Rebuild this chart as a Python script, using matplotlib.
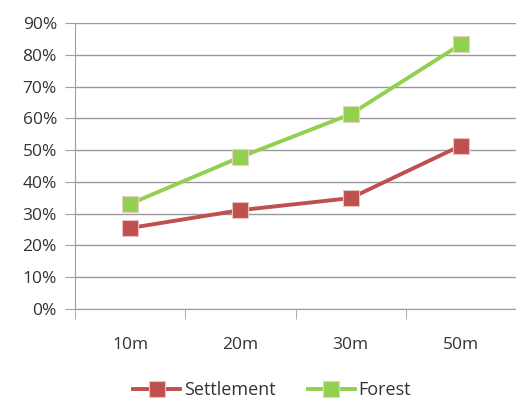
import matplotlib
matplotlib.use("Agg")
import matplotlib.pyplot as plt
from matplotlib.ticker import FuncFormatter

categories = ["10m", "20m", "30m", "50m"]
settlement = [0.255, 0.311, 0.349, 0.514]
forest = [0.331, 0.478, 0.613, 0.833]

W, H = 516, 399
fig = plt.figure(figsize=(W/100, H/100), dpi=100)
ax = fig.add_axes([75/W, 1-309/H, (W-75)/W, (309-23)/H])

x = list(range(len(categories)))
ax.plot(x, settlement, color="#C0504D", lw=2.8, marker="s", ms=11,
        mfc="#C0504D", mec="#E6C4C0", mew=0.8, label="Settlement", zorder=3)
ax.plot(x, forest, color="#92D050", lw=2.8, marker="s", ms=11,
        mfc="#92D050", mec="#E6D0C8", mew=0.8, label="Forest", zorder=3)

ax.set_xlim(-0.5, len(categories)-0.5)
ax.set_ylim(0, 0.9)
ax.set_yticks([i/10 for i in range(10)])
ax.yaxis.set_major_formatter(FuncFormatter(lambda v, p: f"{int(round(v*100))}%"))
ax.set_xticks(x)
ax.set_xticklabels(categories)
ax.set_xticks([i-0.5 for i in range(len(categories)+1)], minor=True)
ax.tick_params(axis="x", which="major", length=0, pad=20, labelsize=12.5, colors="#333333")
ax.tick_params(axis="x", which="minor", length=7, color="#A0A0A0", direction="out")
ax.tick_params(axis="y", length=7, color="#A0A0A0", labelsize=12.5, colors="#333333", pad=6)
ax.grid(axis="y", color="#9A9A9A", lw=1.0)
ax.set_axisbelow(True)
for s in ["top", "right"]:
    ax.spines[s].set_visible(False)
ax.spines["left"].set_color("#A0A0A0")
ax.spines["bottom"].set_color("#A0A0A0")
for t in ax.get_xticklabels() + ax.get_yticklabels():
    t.set_family("Open Sans")

leg = fig.legend(loc="center", bbox_to_anchor=(272/W, 1-390/H), ncol=2, frameon=False,
                 prop={"family": "Open Sans", "size": 13}, handlelength=2.6,
                 columnspacing=1.8, handletextpad=0.2)
for t in leg.get_texts():
    t.set_color("#333333")

fig.savefig("out.png", dpi=100)
